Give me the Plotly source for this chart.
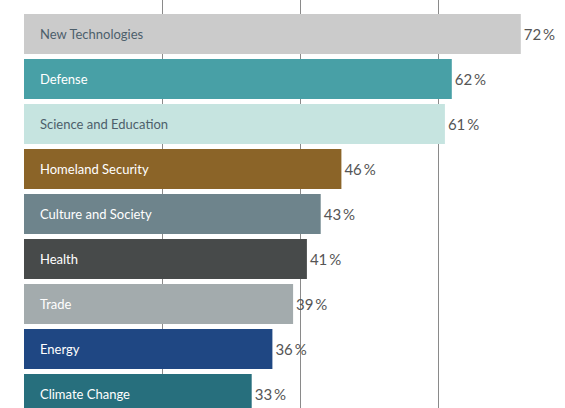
import plotly.graph_objects as go

categories = ["New Technologies", "Defense", "Science and Education", "Homeland Security",
              "Culture and Society", "Health", "Trade", "Energy", "Climate Change"]
values = [72, 62, 61, 46, 43, 41, 39, 36, 33]
colors = ["#cbcbcb", "#48a0a6", "#c6e4e0", "#8b6428", "#6e848c", "#474a4a", "#a3abad", "#1f4783", "#276f7d"]
label_colors = ["#4d5f6b", "#ffffff", "#4d5f6b", "#ffffff", "#ffffff", "#ffffff", "#ffffff", "#ffffff", "#ffffff"]
grid_ticks = [20, 40, 60]

FONT = "Lato, 'Open Sans', sans-serif"

fig = go.Figure()
fig.add_trace(go.Bar(
    y=list(range(len(categories))),
    x=values,
    orientation="h",
    marker=dict(color=colors, line=dict(width=0)),
    text=[f"{v}\u2009%" for v in values],
    textposition="outside",
    textfont=dict(family=FONT, size=15, color="#555555"),
    cliponaxis=False,
    hoverinfo="skip",
))

annotations = []
for i, (c, lc) in enumerate(zip(categories, label_colors)):
    annotations.append(dict(
        x=0, y=i, xref="x", yref="y", text=c, showarrow=False,
        xanchor="left", yanchor="middle", xshift=14,
        font=dict(family=FONT, size=13, color=lc),
    ))

W, H = 565, 408
left = 24
px_per = 6.9
xmax = (W - left) / px_per
step = 45.0
c0 = 34.0
r0 = -c0 / step
r1 = r0 + H / step

fig.update_layout(
    width=W, height=H,
    margin=dict(l=left, r=0, t=0, b=0),
    paper_bgcolor="white", plot_bgcolor="white",
    bargap=5 / 45,
    showlegend=False,
    annotations=annotations,
    xaxis=dict(range=[0, xmax], tickvals=grid_ticks, showticklabels=False,
               showgrid=True, gridcolor="#8a8a8a", gridwidth=1, zeroline=False,
               showline=False, ticks=""),
    yaxis=dict(range=[r1, r0], showticklabels=False, showgrid=False,
               zeroline=False, showline=False, ticks=""),
    font=dict(family=FONT),
)

fig.write_html("out.html", config={"displayModeBar": False},
               post_script="document.body.style.margin='0';document.body.style.overflow='hidden';")
